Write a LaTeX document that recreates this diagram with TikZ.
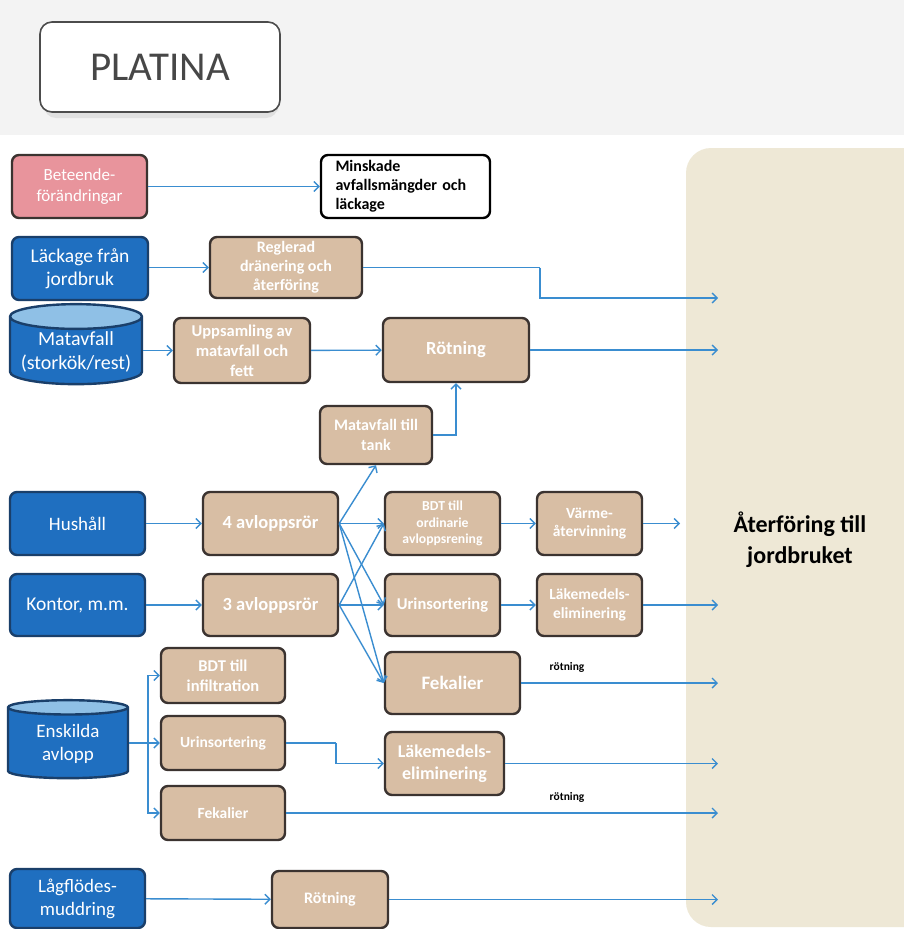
\documentclass[tikz,border=0pt]{standalone}
\usepackage{fontspec}
\setmainfont{Carlito}
\usetikzlibrary{arrows.meta,shapes.geometric}
\definecolor{arrowblue}{HTML}{3A8DD0}
\definecolor{beige}{HTML}{D8BEA4}
\definecolor{boxblue}{HTML}{1F6FC0}
\definecolor{blueborder}{HTML}{1A3F6A}
\definecolor{darkborder}{HTML}{3B3330}
\definecolor{pinkfill}{HTML}{E8949C}
\definecolor{panel}{HTML}{EEE8D6}
\definecolor{cylend}{HTML}{8FC0E6}
\definecolor{topgray}{HTML}{F3F3F3}
\tikzset{
  base/.style={rounded corners=7pt, line width=2.4pt, align=center, inner sep=2pt},
  bbox/.style={base, draw=darkborder, fill=beige, text=white},
  blbox/.style={base, draw=blueborder, fill=boxblue, text=white},
  pkbox/.style={base, draw=darkborder, fill=pinkfill, text=white},
  cyl/.style={cylinder, shape border rotate=90, aspect=0.22, draw=blueborder, line width=2.4pt,
     cylinder uses custom fill, cylinder body fill=boxblue, cylinder end fill=cylend, text=white, align=center, inner sep=1pt},
  flow/.style={draw=arrowblue, line width=1.4pt, -{Straight Barb[length=5pt,width=10pt,line width=1.4pt]}},
  flowline/.style={draw=arrowblue, line width=1.4pt},
  sz/.style={font=\fontsize{#1pt}{\dimexpr #1pt*12/10\relax}\selectfont},
  bsz/.style={font=\bfseries\fontsize{#1pt}{\dimexpr #1pt*12/10\relax}\selectfont},
  wh/.style 2 args={minimum width=#1pt, minimum height=#2pt},
}
\begin{document}
\begin{tikzpicture}[x=1pt,y=-1pt]
\useasboundingbox (0,0) rectangle (904,929);
\fill[white] (0,0) rectangle (904,929);
\fill[topgray] (0,0) rectangle (904,135);
\fill[panel, rounded corners=25pt] (686,148) rectangle (940,927);

% title
\fill[black!12, rounded corners=12pt] (44,100) rectangle (278,118);
\node[draw=black!70, line width=1.6pt, fill=white, rounded corners=12pt, wh={240}{90},
  font=\fontsize{41pt}{41pt}\selectfont, text=black!72] (title) at (160,67) {PLATINA};

% row 1
\node[pkbox, wh={135}{63}, sz=17] (bet) at (79.5,186.5) {Beteende-\\förändringar};
\node[base, draw=black, fill=white, text=black, wh={169}{63}, text width=140pt, align=left, bsz=16, inner sep=3pt] (min) at (405.5,186.5) {Minskade\\avfallsmängder och\\läckage};

% row 2
\node[blbox, wh={136}{63}, sz=19.5] (lack) at (80,268.5) {Läckage från\\jordbruk};
\node[bbox, wh={152}{61}, bsz=16] (regl) at (286,267.5) {Reglerad\\dränering och\\återföring};

% row 3
\node[cyl, wh={132}{80}, sz=20] (mat) at (76,352) {Matavfall\\(storkök/rest)};
\node[bbox, wh={136}{65}, bsz=16.5] (upps) at (242,350.5) {Uppsamling av\\matavfall och\\fett};
\node[bbox, wh={146}{64}, bsz=18.5] (rot1) at (456,350) {Rötning};
\node[bbox, wh={112}{58}, bsz=16] (tank) at (376,435) {Matavfall till\\tank};

% row 4-5
\node[blbox, wh={135}{63}, sz=19] (hush) at (77.5,523.5) {Hushåll};
\node[bbox, wh={135}{63}, bsz=18.5] (four) at (270.5,523.5) {4 avloppsrör};
\node[blbox, wh={135}{62}, sz=19.5] (kont) at (77.5,605) {Kontor, m.m.};
\node[bbox, wh={135}{62}, bsz=18.5] (three) at (270.5,605) {3 avloppsrör};
\node[bbox, wh={115}{63}, bsz=13.7] (bdt) at (442.5,523.5) {BDT till\\ordinarie\\avloppsrening};
\node[bbox, wh={105}{63}, bsz=15.5] (varme) at (589.5,523.5) {Värme-\\återvinning};
\node[bbox, wh={115}{62}, bsz=16.5] (urin) at (442.5,605) {Urinsortering};
\node[bbox, wh={105}{62}, bsz=15.5] (lake) at (589.5,605) {Läkemedels-\\eliminering};
\node[bbox, wh={135}{62}, bsz=19] (fek) at (452.5,683) {Fekalier};

% enskilda
\node[cyl, wh={120}{78}, sz=19] (ensk) at (68,744) {Enskilda\\avlopp};
\node[bbox, wh={124}{55}, bsz=16.5] (bdt2) at (223,675.5) {BDT till\\infiltration};
\node[bbox, wh={124}{54}, bsz=15.5] (urin2) at (223,743) {Urinsortering};
\node[bbox, wh={124}{54}, bsz=15.5] (fek2) at (223,813) {Fekalier};
\node[bbox, wh={119}{63}, bsz=18] (lake2) at (444.5,763.5) {Läkemedels-\\eliminering};

% lågflödes
\node[blbox, wh={135}{59}, sz=19] (lag) at (77.5,898.5) {Lågflödes-\\muddring};
\node[bbox, wh={116}{57}, bsz=16] (rot2) at (330,899.5) {Rötning};

% result text
\node[font=\bfseries\fontsize{24pt}{31pt}\selectfont, align=center, text=black] (ater) at (800,540) {Återföring till\\jordbruket};
\node[font=\bfseries\fontsize{11.5pt}{11.5pt}\selectfont] (r1) at (567,667) {rötning};
\node[font=\bfseries\fontsize{11.5pt}{11.5pt}\selectfont] (r2) at (567,797) {rötning};

% end coordinates
\coordinate (e1) at (718,298);
\coordinate (e2) at (718,350);
\coordinate (e3) at (680,523.5);
\coordinate (e4) at (718,605);
\coordinate (e5) at (718,683);
\coordinate (e6) at (718,763.5);
\coordinate (e7) at (718,813);
\coordinate (e8) at (718,899.5);
\coordinate (k1) at (540,267.5);
\coordinate (k2) at (336,743);
\coordinate (j) at (148,743);

% connectors
\draw[flow] (bet) -- (min);
\draw[flow] (lack.east |- regl.west) -- (regl.west);
\draw[flowline] (regl.east) -- (k1);
\draw[flow] (k1) |- (e1);
\draw[flow] (mat.east |- upps.west) -- (upps.west);
\draw[flow] (upps) -- (rot1);
\draw[flow] (rot1) -- (e2);
\draw[flow] (tank.east) -| (rot1.south);

\draw[flow] (hush) -- (four);
\draw[flow] (kont) -- (three);
\draw[flow] (four.east) -- (tank.south);
\draw[flow] (four.east) -- (bdt.west);
\draw[flow] (four.east) -- (urin.west);
\draw[flow] (four.east) -- (fek.west);
\draw[flow] (three.east) -- (bdt.west);
\draw[flow] (three.east) -- (urin.west);
\draw[flow] (three.east) -- (fek.west);
\draw[flow] (bdt) -- (varme);
\draw[flow] (varme) -- (e3);
\draw[flow] (urin) -- (lake);
\draw[flow] (lake) -- (e4);
\draw[flow] (fek) -- (e5);

\draw[flowline] (ensk.east |- j) -- (j);
\draw[flow] (j) |- (bdt2.west);
\draw[flow] (j) -- (urin2.west);
\draw[flow] (j) |- (fek2.west);
\draw[flowline] (urin2.east) -- (k2);
\draw[flow] (k2) |- (lake2.west);
\draw[flow] (lake2) -- (e6);
\draw[flow] (fek2) -- (e7);

\draw[flow] (lag) -- (rot2);
\draw[flow] (rot2) -- (e8);
\end{tikzpicture}
\end{document}
